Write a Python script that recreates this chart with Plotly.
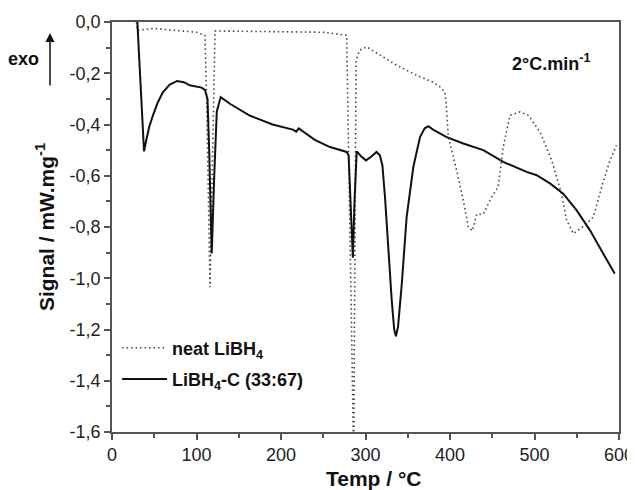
import plotly.graph_objects as go

# LiBH4-C (33:67), solid
comp_T = [30, 37.9, 40, 44, 48.5, 54, 60, 68, 77, 85, 92, 100, 106, 110, 113, 115, 118, 121, 124, 128.6,
          140, 163, 190, 214, 218, 221, 240, 258, 277.7, 280, 282.5, 285, 287, 289.6, 295, 300.6, 307, 313,
          317, 320, 323, 326, 331, 334, 336, 338.5, 343, 348.7, 356.6, 364.5, 370, 374.4, 380, 396, 415.7,
          439.4, 463, 490.7, 502.6, 518.3, 534, 549.9, 565.7, 581.4, 595]
comp_S = [0.0, -0.505, -0.47, -0.41, -0.364, -0.315, -0.275, -0.245, -0.23, -0.235, -0.247, -0.252, -0.256,
          -0.265, -0.30, -0.50, -0.903, -0.60, -0.35, -0.293,
          -0.32, -0.365, -0.40, -0.42, -0.428, -0.415, -0.46, -0.488, -0.507, -0.52, -0.70, -0.92, -0.70,
          -0.505, -0.525, -0.54, -0.525, -0.507,
          -0.52, -0.56, -0.68, -0.85, -1.085, -1.20, -1.226, -1.19, -1.02, -0.76, -0.566, -0.449, -0.415,
          -0.407, -0.42, -0.449, -0.474,
          -0.50, -0.546, -0.585, -0.598, -0.63, -0.67, -0.735, -0.813, -0.904, -0.982]

# neat LiBH4, dotted
neat_T = [29, 30, 48.6, 80, 100, 110, 112, 116, 119, 121.9, 150, 200, 250, 277.7, 279.5, 286, 288.8, 293,
          301.4, 337, 360.6, 380, 388, 394, 395.5, 398, 407.9, 415.7, 421.7, 426.5, 431.6, 439.4, 449.3,
          457, 463, 471, 482.8, 492.7, 506.5, 520.4, 532, 538, 546, 551.8, 559.8, 569.6, 579.5, 589.3, 597]
neat_S = [0.0, -0.033, -0.025, -0.033, -0.04, -0.052, -0.30, -1.035, -0.50, -0.035, -0.036, -0.038, -0.04,
          -0.052, -0.40, -1.70, -0.15, -0.11,
          -0.097, -0.169, -0.208, -0.235, -0.253, -0.273, -0.32, -0.449, -0.579, -0.696, -0.80, -0.815,
          -0.75, -0.75, -0.683,
          -0.644, -0.488, -0.364, -0.351, -0.364, -0.429, -0.54, -0.67, -0.774, -0.826, -0.813, -0.793,
          -0.761, -0.644, -0.54, -0.481]

x_ticks = [0, 100, 200, 300, 400, 500, 600]
x_labels = ["0", "100", "200", "300", "400", "500", "600"]
y_ticks = [0.0, -0.2, -0.4, -0.6, -0.8, -1.0, -1.2, -1.4, -1.6]
y_labels = ["0,0", "-0,2", "-0,4", "-0,6", "-0,8", "-1,0", "-1,2", "-1,4", "-1,6"]

FONT = "Arial, Liberation Sans, sans-serif"

fig = go.Figure()
fig.add_trace(go.Scatter(x=neat_T, y=neat_S, mode="lines", name="<b>neat LiBH<sub>4</sub></b>",
                         legendgroup="a",
                         line=dict(color="#444444", width=1.6, dash="1.5px,3px")))
fig.add_trace(go.Scatter(x=comp_T, y=comp_S, mode="lines", name="<b>LiBH<sub>4</sub>-C (33:67)</b>",
                         legendgroup="b",
                         line=dict(color="#111111", width=2)))

axis_common = dict(showline=True, mirror=True, linecolor="#555555", linewidth=1.5,
                   ticks="outside", ticklen=6, tickwidth=1.5, tickcolor="#555555",
                   showgrid=False, zeroline=False, automargin=False,
                   tickfont=dict(family=FONT, size=18, color="#222222"))

fig.update_xaxes(range=[0, 600], tickvals=x_ticks, ticktext=x_labels,
                 minor=dict(dtick=50, ticklen=4, tickwidth=1.5, tickcolor="#555555", ticks="outside"),
                 **axis_common)
fig.update_yaxes(range=[-1.6, 0.0], tickvals=y_ticks, ticktext=y_labels,
                 minor=dict(dtick=0.1, ticklen=4, tickwidth=1.5, tickcolor="#555555", ticks="outside"),
                 title=dict(text="<b>Signal / mW.mg<sup>-1</sup></b>",
                            font=dict(family=FONT, size=21, color="#111111"), standoff=9),
                 **axis_common)

# x-axis title (placed slightly right of centre, as in the original)
fig.add_annotation(xref="paper", yref="paper", x=0.517, y=-0.114, xanchor="center", yanchor="middle",
                   text="<b>Temp / °C</b>", showarrow=False,
                   font=dict(family=FONT, size=21, color="#111111"))

fig.add_annotation(xref="paper", yref="paper", x=-0.1223, y=0.973, ax=0, ay=54,
                   text="", showarrow=True, arrowhead=2, arrowsize=1.2, arrowwidth=1.5,
                   arrowcolor="#111111")
fig.add_annotation(xref="paper", yref="paper", x=-0.1736, y=0.91, xanchor="center", yanchor="middle",
                   text="<b>exo</b>", showarrow=False,
                   font=dict(family=FONT, size=18, color="#111111"))
fig.add_annotation(xref="paper", yref="paper", x=0.947, y=0.902, xanchor="right", yanchor="middle",
                   text="<b>2°C.min<sup>-1</sup></b>", showarrow=False,
                   font=dict(family=FONT, size=18, color="#111111"))

# the page body adds an 8px offset, so the figure is 8px smaller than the window
fig.update_layout(width=627, height=482, margin=dict(l=104, r=16, t=14, b=58),
                  paper_bgcolor="white", plot_bgcolor="white",
                  font=dict(family=FONT, color="#111111"),
                  legend=dict(x=0.01, y=0.25, xanchor="left", yanchor="top",
                              bgcolor="rgba(0,0,0,0)", font=dict(family=FONT, size=18, color="#111111"),
                              itemwidth=45, tracegroupgap=5))

fig.write_html("out.html")
